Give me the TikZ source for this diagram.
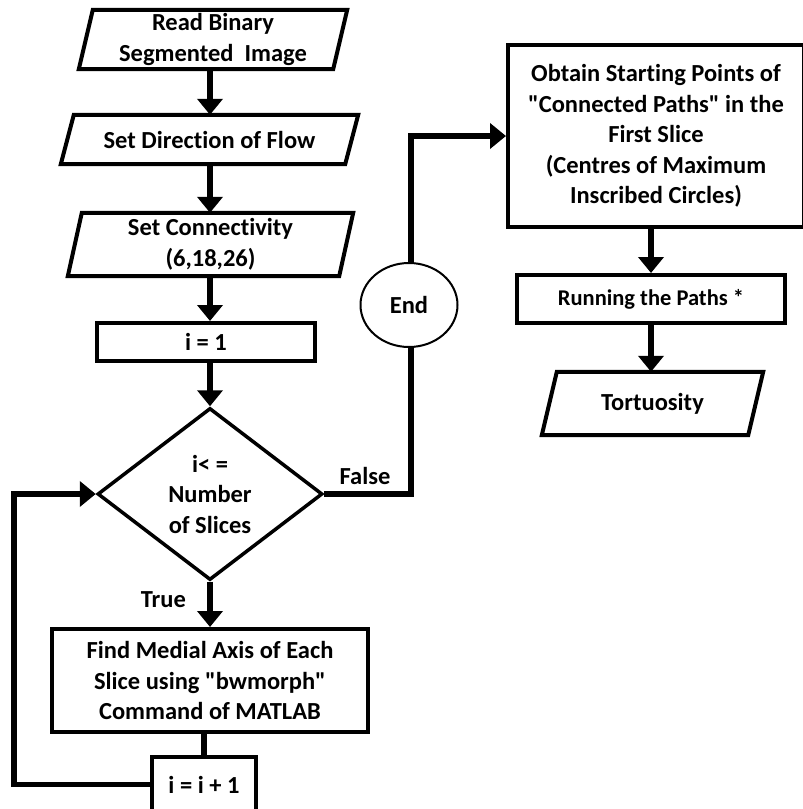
\documentclass[tikz,border=0pt]{standalone}
\usepackage{fontspec}
\setmainfont{Carlito}[Ligatures={TeXOff,NoCommon}]
\usetikzlibrary{arrows.meta,shapes.geometric,calc}

\tikzset{
  lbl/.style={font=\bfseries\fontsize{24.5}{30.5}\selectfont, align=center},
  boxshape/.style={lbl, draw, line width=4pt, rectangle, inner sep=0pt},
  paranode/.style={lbl, rectangle, inner sep=0pt},
  paraline/.style={line width=4pt, line join=miter},
  conn/.style={line width=5.5pt},
  arr/.style={conn, -{Triangle[width=25pt,length=16pt]}},
}

\begin{document}
\begin{tikzpicture}[x=1pt,y=-1pt]
\useasboundingbox (0,0) rectangle (803,809);

% left column
\node[paranode, minimum width=268pt, minimum height=59pt] (read) at (213,39.5)
  {Read Binary\\Segmented\ \ Image};
\node[paranode, minimum width=297pt, minimum height=49pt] (dir) at (209.5,139.5)
  {Set Direction of Flow};
\node[paranode, minimum width=285pt, minimum height=63pt] (cty) at (210.5,244.5)
  {Set Connectivity\\(6,18,26)};
\node[boxshape, minimum width=218pt, minimum height=38pt] (ione) at (206,342)
  {i = 1};
\node[lbl, draw, diamond, line width=3.5pt, aspect=1.31, inner sep=0pt,
      minimum width=225pt, minimum height=172pt] (dec) at (210,494)
  {i\textless{} =\\Number\\of Slices};
\node[boxshape, minimum width=316pt, minimum height=103pt] (find) at (210,680.5)
  {Find Medial Axis of Each\\Slice using "bwmorph"\\Command of MATLAB};
\node[boxshape, minimum width=104pt, minimum height=55pt] (inc) at (204,784.5)
  {i = i + 1};

% right column
\node[boxshape, minimum width=296pt, minimum height=182pt] (obt) at (656,136)
  {Obtain Starting Points of\\"Connected Paths" in the\\First Slice\\(Centres of Maximum\\Inscribed Circles)};
\node[boxshape, font=\bfseries\fontsize{22.5}{26}\selectfont,
      minimum width=268pt, minimum height=48pt] (run) at (651,299)
  {Running the Paths *};
\node[paranode, minimum width=221pt, minimum height=63pt] (tort) at (652.5,403.5)
  {Tortuosity};

% parallelogram outlines around the input/output nodes
\foreach \n/\s in {read/14, dir/13, cty/14, tort/15}{
  \draw[paraline] ($(\n.north west)+(\s,0)$) -- (\n.north east)
    -- ($(\n.south east)-(\s,0)$) -- (\n.south west) -- cycle;
}

% vertical axis of the main column
\coordinate (col) at (210,0);

% flow
\draw[arr] (read.south -| col) -- (dir.north -| col);
\draw[arr] (dir.south -| col) -- (cty.north -| col);
\draw[arr] (cty.south -| col) -- (ione.north -| col);
\draw[arr] (ione.south -| col) -- (dec.north);
\draw[arr] (dec.south) -- node[lbl, pos=0.4, left=18pt] {True} (find.north -| col);
\draw[conn] (find.south -| inc.north) -- (inc.north);

% loop back to the test
\coordinate (lp) at (14,0);
\draw[arr] (inc.west) -- (inc.west -| lp) |- (dec.west);

% exit branch
\coordinate (fx) at (411,0);
\draw[arr] (dec.east) -- (dec.east -| fx) |- (obt.west);
\node[lbl] at (365,476) {False};
\node[lbl, draw, ellipse, line width=2pt, fill=white, inner sep=0pt,
      minimum width=97pt, minimum height=84pt] (endn) at (409,305) {End};

\draw[arr] (run.north |- obt.south) -- (run.north);
\draw[arr] (run.south) -- (tort.north -| run.south);
\end{tikzpicture}
\end{document}
